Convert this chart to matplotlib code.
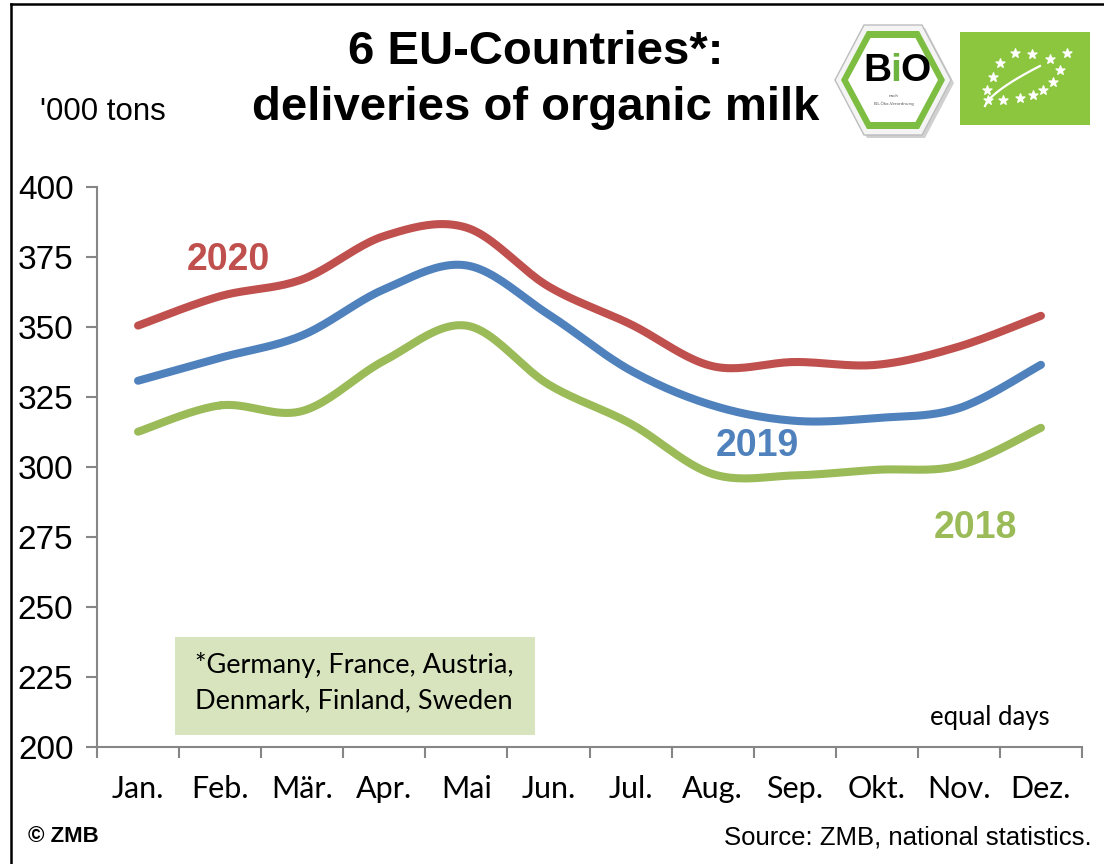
import numpy as np
import matplotlib.pyplot as plt
from matplotlib.patches import Polygon, Rectangle

months = ['Jan.', 'Feb.', 'Mär.', 'Apr.', 'Mai', 'Jun.', 'Jul.', 'Aug.',
          'Sep.', 'Okt.', 'Nov.', 'Dez.']
milk_2020 = [350.5, 361.0, 367.0, 382.5, 385.5, 364.5, 351.0, 336.0, 337.5, 336.5, 343.0, 354.0]
milk_2019 = [330.8, 339.0, 347.0, 363.5, 372.0, 354.5, 334.5, 322.0, 316.5, 317.5, 321.0, 336.5]
milk_2018 = [312.6, 322.0, 320.0, 338.0, 350.5, 329.5, 315.5, 297.5, 297.0, 299.0, 300.5, 314.0]
y_ticks = [200, 225, 250, 275, 300, 325, 350, 375, 400]

RED = '#C0504D'
BLUE = '#4F81BD'
GREEN = '#9BBB59'
AXIS_GREY = '#868686'


def smooth(x, y, n=24):
    """Catmull-Rom curve through the points, like Excel's smoothed lines."""
    pts = np.column_stack([x, y])
    p = np.vstack([pts[0], pts, pts[-1]])
    t = np.linspace(0, 1, n)[:, None]
    segs = []
    for i in range(1, len(p) - 2):
        p0, p1, p2, p3 = p[i - 1], p[i], p[i + 1], p[i + 2]
        seg = 0.5 * (2 * p1 + (-p0 + p2) * t
                     + (2 * p0 - 5 * p1 + 4 * p2 - p3) * t ** 2
                     + (-p0 + 3 * p1 - 3 * p2 + p3) * t ** 3)
        segs.append(seg)
    out = np.vstack(segs)
    return out[:, 0], out[:, 1]


fig = plt.figure(figsize=(11.04, 8.64), dpi=100)

# background layer in pixel coordinates: frame, logos, notes
bg = fig.add_axes([0, 0, 1, 1], zorder=0)
bg.set_xlim(0, 1104)
bg.set_ylim(864, 0)
bg.axis('off')

bg.plot([11, 11], [4, 870], color='black', lw=1.8, clip_on=False)
bg.plot([11, 1110], [4, 4], color='black', lw=1.8, clip_on=False)

# BIO hexagon logo
cx, cy = 893, 80


def hexagon(hw, hh):
    return [(cx - hw, cy), (cx - hw / 2, cy - hh), (cx + hw / 2, cy - hh),
            (cx + hw, cy), (cx + hw / 2, cy + hh), (cx - hw / 2, cy + hh)]


bg.add_patch(Polygon([(x + 3, y + 3) for x, y in hexagon(58, 55)], closed=True,
                     facecolor='#D0D0D0', edgecolor='none'))
bg.add_patch(Polygon(hexagon(58, 55), closed=True, facecolor='#F4F4F4', edgecolor='#BDBDBD', lw=1))
bg.add_patch(Polygon(hexagon(52, 49), closed=True, facecolor='#7DBE42', edgecolor='none'))
bg.add_patch(Polygon(hexagon(45, 42), closed=True, facecolor='white', edgecolor='none'))
bio_font = dict(fontsize=28, fontweight='bold', family='Liberation Sans', va='center', ha='center')
bg.text(877, 71, 'B', color='black', **bio_font)
bg.text(896, 71, 'i', color='#6DB33F', **bio_font)
bg.text(915, 71, 'O', color='black', **bio_font)
bg.text(894, 96, 'nach', fontsize=3, ha='center', va='center', color='#555555')
bg.text(894, 104, 'EG-Öko-Verordnung', fontsize=3, ha='center', va='center', color='#555555')

# EU organic leaf logo
bg.add_patch(Rectangle((960, 32), 130, 93, facecolor='#8CC63F', edgecolor='none'))
star_x = [1015, 1032, 1050, 1067, 1000, 1060, 993, 1053, 987, 1043, 988, 1003, 1020, 1033]
star_y = [53, 54, 59, 53, 63, 70, 77, 82, 90, 90, 100, 100, 98, 95]
bg.scatter(star_x, star_y, marker='*', s=45, color='white', zorder=3)
arc_t = np.linspace(0, 1, 30)
bg.plot(985 + 55 * arc_t, 106 - 40 * arc_t ** 0.7, color='white', lw=1.6)

# footnote box
bg.add_patch(Rectangle((175, 637), 360, 98, facecolor='#D7E4BD', edgecolor='none'))
bg.text(195, 665, '*Germany, France, Austria,', fontsize=19.5, family='Lato', va='center', ha='left')
bg.text(195, 701, 'Denmark, Finland, Sweden', fontsize=19.5, family='Lato', va='center', ha='left')

# titles and notes
bg.text(536, 52, '6 EU-Countries*:', fontsize=34, fontweight='bold', family='Liberation Sans',
        ha='center', va='center')
bg.text(536, 108, 'deliveries of organic milk', fontsize=34, fontweight='bold', family='Liberation Sans',
        ha='center', va='center')
bg.text(40, 112, "'000 tons", fontsize=22.5, family='Liberation Sans', ha='left', va='center')
bg.text(1050, 718, 'equal days', fontsize=18.5, family='Lato', ha='right', va='center')
bg.text(28, 836, '© ZMB', fontsize=16, fontweight='bold', family='Liberation Sans', ha='left', va='center')
bg.text(1092, 838, 'Source: ZMB, national statistics.', fontsize=18.5, family='Liberation Sans',
        ha='right', va='center')

# main chart
ax = fig.add_axes([97 / 1104, 1 - 747 / 864, 985 / 1104, 560 / 864], zorder=1)
ax.set_facecolor('none')
x = np.arange(len(months)) + 0.5

for vals, color in [(milk_2018, GREEN), (milk_2019, BLUE), (milk_2020, RED)]:
    sx, sy = smooth(x, vals)
    ax.plot(sx, sy, color=color, lw=5.8, solid_capstyle='round')

label_font = dict(fontsize=27, fontweight='bold', family='Liberation Sans', ha='center', va='center')
ax.text(1.6, 373.8, '2020', color=RED, **label_font)
ax.text(8.05, 307.5, '2019', color=BLUE, **label_font)
ax.text(10.7, 278.3, '2018', color=GREEN, **label_font)

ax.set_xlim(0, 12)
ax.set_ylim(200, 400)
ax.set_yticks(y_ticks)
ax.set_yticklabels([str(v) for v in y_ticks], fontsize=24, family='Liberation Sans')
ax.set_xticks(np.arange(13))
ax.set_xticklabels([])
ax.set_xticks(x, minor=True)
ax.set_xticklabels(months, minor=True, fontsize=22, family='Lato')
ax.tick_params(axis='x', which='major', length=8, width=1.5, color=AXIS_GREY, direction='out')
ax.tick_params(axis='x', which='minor', length=0, pad=20)
ax.tick_params(axis='y', length=8, width=1.5, color=AXIS_GREY, direction='out', pad=9)

for side in ['top', 'right']:
    ax.spines[side].set_visible(False)
for side in ['left', 'bottom']:
    ax.spines[side].set_color(AXIS_GREY)
    ax.spines[side].set_linewidth(1.5)

fig.savefig('out.png', dpi=100)
